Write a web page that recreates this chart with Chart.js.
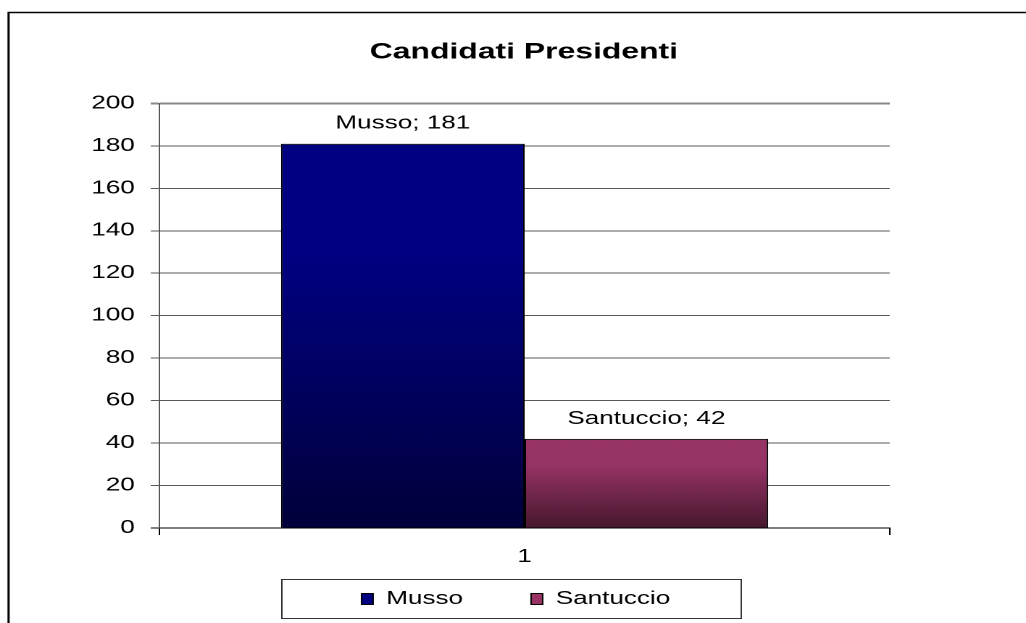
<!DOCTYPE html>
<html>
<head>
<meta charset="utf-8">
<script src="https://cdn.jsdelivr.net/npm/chart.js@4"></script>
<style>
  html, body { margin: 0; padding: 0; background: #fff; overflow: hidden; }
  /* the reference is stretched sideways, so the canvas is drawn narrow and widened */
  #chart { display: block; width: 1026px; height: 623px; }
</style>
</head>
<body>
<canvas id="chart" width="708" height="623" style="width:1026px;height:623px"></canvas>
<script>
// data
const categories = ["1"];
const seriesNames = ["Musso", "Santuccio"];
const musso = [181];
const santuccio = [42];
const yTicks = [0, 20, 40, 60, 80, 100, 120, 140, 160, 180, 200];

const FONT = "'Liberation Sans', Arial, sans-serif";
const LEGEND_GAP = 47;

// vertical gradient over each bar, from its top down to zero
function barGradient(top, mid, bottom) {
  return (c) => {
    const chart = c.chart;
    if (!chart.chartArea || c.raw == null) return top;
    const y = chart.scales.y;
    const g = chart.ctx.createLinearGradient(0, y.getPixelForValue(c.raw), 0, y.getPixelForValue(0));
    g.addColorStop(0, top);
    g.addColorStop(0.3, mid);
    g.addColorStop(1, bottom);
    return g;
  };
}

/* =========================
   FRAME, LEGEND BOX, BAR LABELS
========================= */
const decorations = {
  id: "decorations",
  afterLayout(chart) {
    // legend padding is big to space the items apart; pull the band back up
    const lg = chart.legend;
    if (!lg) return;
    lg.top -= 25; lg.bottom -= 25;
    lg.left -= 5.5; lg.right -= 5.5;
  },
  beforeDraw(chart) {
    const ctx = chart.ctx;
    ctx.save();
    ctx.fillStyle = "#fff";
    ctx.fillRect(0, 0, chart.width, chart.height);
    ctx.strokeStyle = "#000";
    ctx.lineWidth = 1.5;
    ctx.strokeRect(5.9, 12.5, chart.width + 20, chart.height + 20);
    ctx.restore();
  },
  afterDraw(chart) {
    const ctx = chart.ctx;
    const area = chart.chartArea;
    ctx.save();

    // box round the legend
    ctx.strokeStyle = "#333";
    ctx.lineWidth = 1;
    ctx.strokeRect(area.left + 84.5, 579.5, 317, 39);

    // "Name; value" above every bar
    ctx.font = "18px " + FONT;
    ctx.fillStyle = "#000";
    ctx.textAlign = "center";
    ctx.textBaseline = "alphabetic";
    chart.data.datasets.forEach((ds, i) => {
      chart.getDatasetMeta(i).data.forEach((bar, j) => {
        ctx.fillText(ds.label + "; " + ds.data[j], bar.x, bar.y - 15);
      });
    });
    ctx.restore();
  }
};

new Chart(document.getElementById("chart"), {
  type: "bar",
  data: {
    labels: categories,
    datasets: [
      {
        label: seriesNames[0],
        data: musso,
        backgroundColor: barGradient("#000080", "#000080", "#00003a"),
        borderColor: "#000",
        borderWidth: 1,
        legendColor: "#000080"
      },
      {
        label: seriesNames[1],
        data: santuccio,
        backgroundColor: barGradient("#993366", "#963365", "#45172d"),
        borderColor: "#000",
        borderWidth: 1,
        legendColor: "#993366"
      }
    ]
  },
  options: {
    responsive: false,
    devicePixelRatio: 2,
    animation: false,
    events: [],
    layout: { padding: { left: 15, right: 0, top: 39, bottom: -20 } },
    datasets: {
      bar: { categoryPercentage: 0.667, barPercentage: 1 }
    },
    scales: {
      x: {
        grid: {
          display: true,
          offset: true,
          drawOnChartArea: false,
          tickLength: 7,
          color: "#000"
        },
        border: { display: true, color: "#000", width: 1 },
        ticks: {
          color: "#000",
          padding: 11,
          font: { family: FONT, size: 18 }
        },
        afterFit(s) { s.height = 40; }
      },
      y: {
        min: 0,
        max: 200,
        afterBuildTicks(s) { s.ticks = yTicks.map(v => ({ value: v })); },
        grid: {
          color: (c) => (c.tick && c.tick.value === 0 ? "#000" : (c.tick && c.tick.value === 200 ? "#888" : "#5a5a5a")),
          lineWidth: (c) => (c.tick && c.tick.value === 200 ? 2 : 1),
          tickLength: 6
        },
        border: { display: true, color: "#555", width: 1 },
        ticks: {
          color: "#000",
          padding: 11,
          font: { family: FONT, size: 18 }
        },
        afterFit(s) { s.width = 95; }
      },
      spacer: {
        position: "right",
        display: true,
        grid: { display: false },
        border: { display: false },
        ticks: { display: false },
        afterFit(s) { s.width = 94; }
      }
    },
    plugins: {
      title: {
        display: true,
        text: "Candidati Presidenti",
        color: "#000",
        font: { family: FONT, size: 22, weight: "bold" },
        padding: { top: 0, bottom: 38 }
      },
      legend: {
        position: "bottom",
        labels: {
          color: "#000",
          font: { family: FONT, size: 18 },
          boxWidth: 8,
          boxHeight: 11,
          padding: LEGEND_GAP,
          generateLabels(chart) {
            return chart.data.datasets.map((ds, i) => ({
              text: ds.label,
              fillStyle: ds.legendColor,
              strokeStyle: "#000",
              lineWidth: 1,
              datasetIndex: i,
              hidden: false
            }));
          }
        }
      },
      tooltip: { enabled: false }
    }
  },
  plugins: [decorations]
});
</script>
</body>
</html>
